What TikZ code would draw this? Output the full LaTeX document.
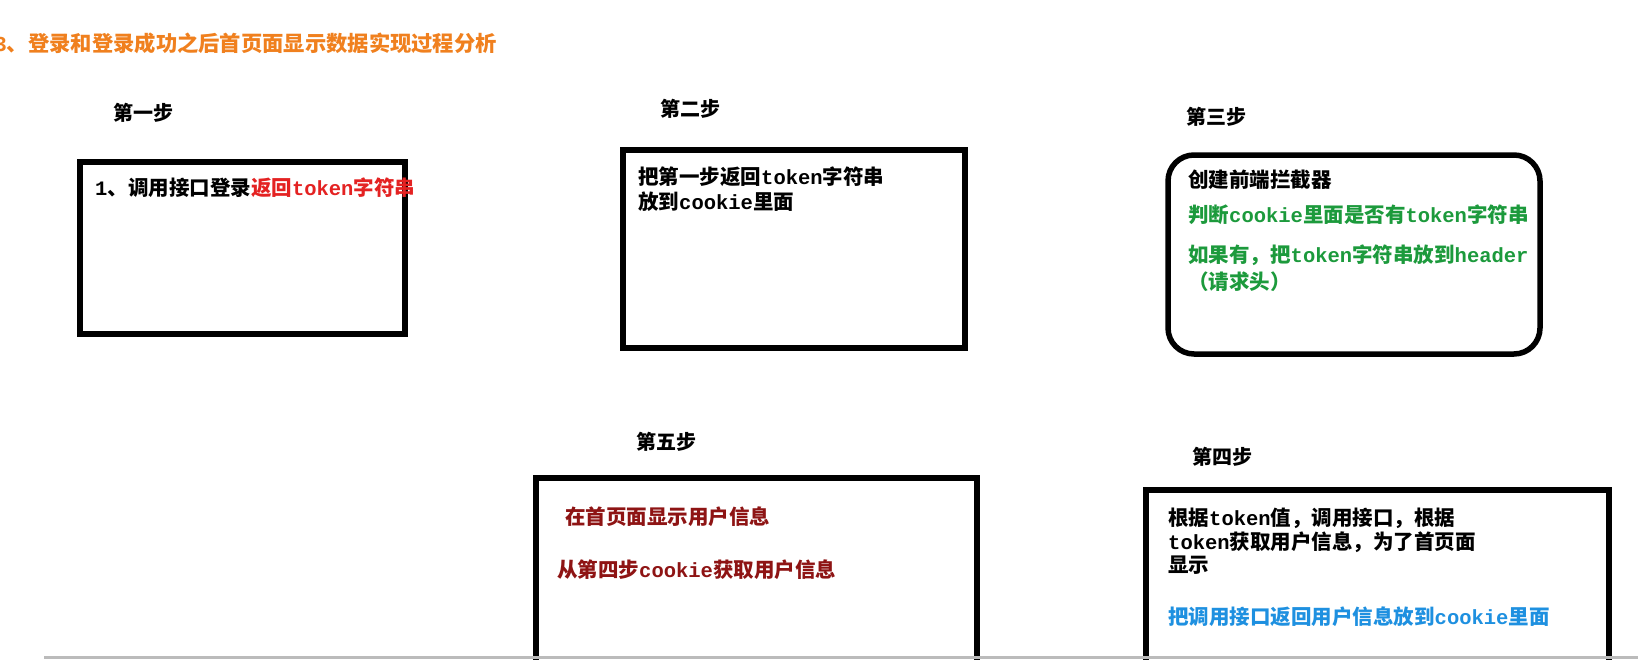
\documentclass[tikz,border=0pt]{standalone}
\usepackage{fontspec}
\setmainfont{Noto Sans CJK SC}
\newfontfamily\latf{Liberation Mono}
\newcommand{\en}[1]{{\latf\bfseries #1}}
\definecolor{ttlorange}{HTML}{F0801E}
\definecolor{tred}{HTML}{E42222}
\definecolor{tgreen}{HTML}{1C9A3C}
\definecolor{tdred}{HTML}{8E1414}
\definecolor{tblue}{HTML}{1E90E0}
\definecolor{bandgray}{HTML}{BBBBBB}
\begin{document}
\begin{tikzpicture}[x=1pt,y=-1pt,
  txt/.style={inner sep=0pt,anchor=base west,font=\fontsize{20.5}{24}\selectfont\bfseries},
  steplbl/.style={inner sep=0pt,font=\fontsize{20}{24}\selectfont\bfseries},
  stepbox/.style={draw=black,line width=6pt,anchor=north west,inner sep=0pt,outer sep=0pt}]
\useasboundingbox (0,0) rectangle (1638,659);
\clip (0,0) rectangle (1638,659);
\fill[white] (0,0) rectangle (1638,659);
% title
\node[txt,text=ttlorange,font=\fontsize{21.3}{24}\selectfont\bfseries] (ttl) at (-6,51.5) {\en{3}、登录和登录成功之后首页面显示数据实现过程分析};
% step labels
\node[steplbl] (l1) at (143,113) {第一步};
\node[steplbl] (l2) at (690,109) {第二步};
\node[steplbl] (l3) at (1216,117) {第三步};
\node[steplbl] (l5) at (666,442) {第五步};
\node[steplbl] (l4) at (1222,457) {第四步};
% boxes
\node[stepbox,minimum width=325pt,minimum height=172pt] (b1) at (80,162) {};
\node[stepbox,minimum width=342pt,minimum height=198pt] (b2) at (623,150) {};
\node[stepbox,rounded corners=26pt,line width=5.5pt,minimum width=372pt,minimum height=199pt] (b3) at (1168,155) {};
\node[stepbox,minimum width=441pt,minimum height=260pt] (b5) at (536,478) {};
\node[stepbox,minimum width=463pt,minimum height=250pt] (b4) at (1146,490) {};
% box 1
\node[txt] (t1) at (95,195.5) {\en{1}、调用接口登录\textcolor{tred}{返回\en{token}字符串}};
% box 2
\node[txt] (t2a) at (638,184.5) {把第一步返回\en{token}字符串};
\node[txt] (t2b) at (638,209.5) {放到\en{cookie}里面};
% box 3
\node[txt] (t3a) at (1188,187.5) {创建前端拦截器};
\node[txt,text=tgreen] (t3b) at (1188,222.5) {判断\en{cookie}里面是否有\en{token}字符串};
\node[txt,text=tgreen] (t3c) at (1188,262.5) {如果有，把\en{token}字符串放到\en{header}};
\node[txt,text=tgreen] (t3d) at (1188,289.5) {（请求头）};
% box 5
\node[txt,text=tdred] (t5a) at (565,524.5) {在首页面显示用户信息};
\node[txt,text=tdred] (t5b) at (557,577.5) {从第四步\en{cookie}获取用户信息};
% box 4
\node[txt] (t4a) at (1168,525.5) {根据\en{token}值，调用接口，根据};
\node[txt] (t4b) at (1168,549.5) {\en{token}获取用户信息，为了首页面};
\node[txt] (t4c) at (1168,572.5) {显示};
\node[txt,text=tblue] (t4d) at (1168,624.5) {把调用接口返回用户信息放到\en{cookie}里面};
% bottom band
\fill[bandgray] (44,656) rectangle (1638,659);
\end{tikzpicture}
\end{document}
